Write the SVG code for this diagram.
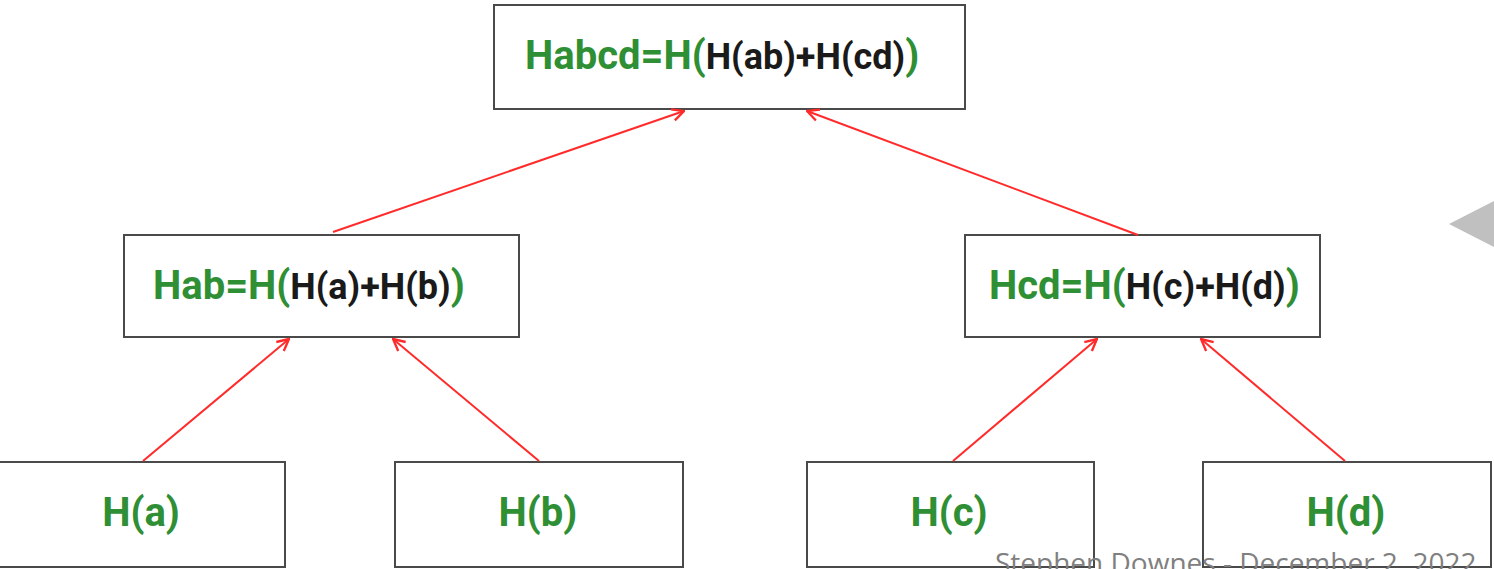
<svg xmlns="http://www.w3.org/2000/svg" width="1494" height="569" viewBox="0 0 1494 569">
<style>
.box{fill:#fff;stroke:#4a4a4a;stroke-width:2}
.lbl{font-family:Roboto,"Liberation Sans",sans-serif;font-weight:bold}
.g{fill:#2f8f35;font-size:40px}
.k{fill:#1a1a1a;font-size:36px}
.edge{stroke:#ff2b2b;stroke-width:2;fill:none;marker-end:url(#arr)}
.foot{font-family:"Open Sans","Liberation Sans",sans-serif;font-size:28px;fill:#808080}
</style>
<defs>
<marker id="arr" viewBox="0 0 12 12" refX="11" refY="6" markerWidth="14" markerHeight="14" markerUnits="userSpaceOnUse" orient="auto">
<path d="M1,1 L11,6 L1,11" fill="none" stroke="#ff2b2b" stroke-width="2"/>
</marker>
</defs>
<g id="node-habcd">
<rect class="box" x="494" y="5" width="471" height="104"/>
<text class="lbl" x="525" y="69"><tspan class="g">Habcd=H(</tspan><tspan class="k">H(ab)+H(cd)</tspan><tspan class="g">)</tspan></text>
</g>
<g id="node-hab">
<rect class="box" x="124" y="235" width="395" height="102"/>
<text class="lbl" x="153" y="299"><tspan class="g">Hab=H(</tspan><tspan class="k">H(a)+H(b)</tspan><tspan class="g">)</tspan></text>
</g>
<g id="node-hcd">
<rect class="box" x="965" y="235" width="355" height="102"/>
<text class="lbl" x="989" y="299"><tspan class="g">Hcd=H(</tspan><tspan class="k">H(c)+H(d)</tspan><tspan class="g">)</tspan></text>
</g>
<g id="node-ha">
<rect class="box" x="-1" y="462" width="286" height="105"/>
<text class="lbl g" x="141" y="526" text-anchor="middle">H(a)</text>
</g>
<g id="node-hb">
<rect class="box" x="395" y="462" width="288" height="105"/>
<text class="lbl g" x="538" y="526" text-anchor="middle">H(b)</text>
</g>
<g id="node-hc">
<rect class="box" x="807" y="462" width="287" height="105"/>
<text class="lbl g" x="949" y="526" text-anchor="middle">H(c)</text>
</g>
<g id="node-hd">
<rect class="box" x="1203" y="462" width="288" height="105"/>
<text class="lbl g" x="1346" y="526" text-anchor="middle">H(d)</text>
</g>
<g id="connectors">
<line class="edge" x1="333" y1="232" x2="684" y2="111"/>
<line class="edge" x1="1138" y1="235" x2="807" y2="111"/>
<line class="edge" x1="143" y1="461" x2="289" y2="339"/>
<line class="edge" x1="539" y1="461" x2="393" y2="339"/>
<line class="edge" x1="953" y1="461" x2="1097" y2="339"/>
<line class="edge" x1="1345" y1="461" x2="1201" y2="339"/>
</g>
<polygon points="1449,224 1494,201 1494,247" fill="#c0c0c0"/>
<text class="foot" x="995" y="573">Stephen Downes - December 2, 2022</text>
</svg>
